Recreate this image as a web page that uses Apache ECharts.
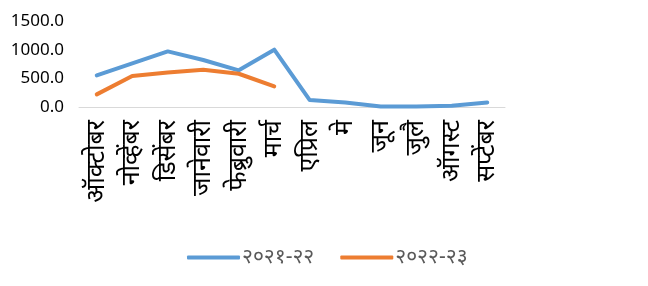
<!DOCTYPE html>
<html>
<head>
<meta charset="utf-8">
<script src="https://cdn.jsdelivr.net/npm/echarts@6/dist/echarts.min.js"></script>
<style>
  html, body { margin: 0; padding: 0; background: #fff; }
  #chart { width: 648px; height: 286px; }
</style>
</head>
<body>
<div id="chart"></div>
<script>
var months = ['ऑक्टोबर', 'नोव्हेंबर', 'डिसेंबर', 'जानेवारी', 'फेब्रुवारी', 'मार्च', 'एप्रिल', 'मे', 'जून', 'जुलै', 'ऑगस्ट', 'सप्टेंबर'];
var year2122 = [550, 760, 970, 820, 640, 1000, 120, 80, 10, 10, 20, 80];
var year2223 = [220, 540, 600, 650, 580, 360];
var seriesNames = ['२०२१-२२', '२०२२-२३'];

var myChart = echarts.init(document.getElementById('chart'));
var option = {
  animation: false,
  textStyle: { fontFamily: "'Noto Sans', 'Liberation Sans', sans-serif" },
  grid: { left: 79, right: 143, top: 21, bottom: 179, containLabel: false },
  legend: {
    data: seriesNames,
    left: 182,
    top: 242,
    itemWidth: 53,
    itemHeight: 4,
    itemGap: 26,
    icon: 'roundRect',
    textStyle: { fontSize: 21, color: '#595959', padding: [0, 0, 0, -3] }
  },
  xAxis: {
    type: 'category',
    data: months,
    boundaryGap: true,
    axisLine: { lineStyle: { color: '#d9d9d9', width: 1 } },
    axisTick: { show: false },
    axisLabel: { rotate: 90, fontSize: 25, color: '#000', margin: 13, interval: 0 }
  },
  yAxis: {
    type: 'value',
    min: 0,
    max: 1500,
    interval: 500,
    axisLine: { show: false },
    axisTick: { show: false },
    splitLine: { show: false },
    axisLabel: {
      fontSize: 17,
      color: '#000',
      margin: 15,
      formatter: function (v) { return v.toFixed(1); }
    }
  },
  series: [
    {
      name: seriesNames[0],
      type: 'line',
      data: year2122,
      showSymbol: false,
      symbol: 'none',
      lineStyle: { color: '#5B9BD5', width: 4, cap: 'round', join: 'round' },
      itemStyle: { color: '#5B9BD5' }
    },
    {
      name: seriesNames[1],
      type: 'line',
      data: year2223,
      showSymbol: false,
      symbol: 'none',
      lineStyle: { color: '#ED7D31', width: 4, cap: 'round', join: 'round' },
      itemStyle: { color: '#ED7D31' }
    }
  ]
};
myChart.setOption(option);
window.onresize = function () {
  myChart.resize();
};
</script>
</body>
</html>
